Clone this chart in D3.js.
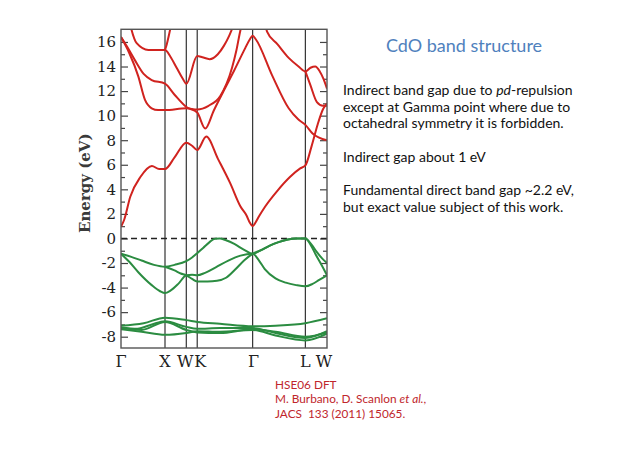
<!DOCTYPE html>
<html>
<head>
<meta charset="utf-8">
<script src="https://cdn.jsdelivr.net/npm/d3@7"></script>
<style>
  body { margin: 0; background: #fff; }
  svg { display: block; }
</style>
</head>
<body>
<svg id="chart" width="638" height="451"></svg>
<script>
// k-path (high symmetry points) and position along the path, 0..1
const kLabels = ['Γ', 'X', 'W', 'K', 'Γ', 'L', 'W'];
const kPos = [0, 0.2136, 0.317, 0.370, 0.639, 0.895, 1];
const labelShift = [0, 0, -1, 3, 1, 0, -3];
const energyTicks = [-8, -6, -4, -2, 0, 2, 4, 6, 8, 10, 12, 14, 16];
const minorTicks = [-7, -5, -3, -1, 1, 3, 5, 7, 9, 11, 13, 15];

// conduction bands, [k, E (eV)]
const cb1 = [[0,0.95],[0.015,1.5],[0.045,3.4],[0.094,5.0],[0.15,5.9],[0.185,5.65],[0.2136,5.65],[0.26,6.6],[0.317,7.8],[0.345,7.55],[0.37,7.2],[0.414,8.3],[0.47,6.5],[0.53,4.5],[0.58,2.6],[0.61,1.85],[0.625,1.3],[0.639,1.0],[0.653,1.3],[0.67,1.8],[0.70,2.6],[0.76,3.9],[0.82,5.0],[0.87,5.7],[0.895,5.95],[0.925,7.5],[0.955,9.3],[0.98,10.5],[1,11.0]];
const cb2 = [[0,16.4],[0.03,15.6],[0.068,14.5],[0.11,13.4],[0.149,12.9],[0.2136,12.6],[0.26,11.7],[0.317,10.7],[0.37,10.25],[0.409,8.95],[0.45,10.4],[0.498,12.0],[0.55,13.7],[0.603,15.5],[0.625,16.2],[0.639,16.5],[0.655,16.2],[0.733,13.3],[0.814,10.6],[0.86,9.7],[0.895,9.25],[0.93,8.55],[1,8.0]];
const cb3 = [[0,16.4],[0.04,15.1],[0.084,13.2],[0.116,11.3],[0.149,10.6],[0.18,10.45],[0.2136,10.45],[0.317,10.6],[0.37,10.5],[0.425,10.8],[0.482,11.6],[0.539,13.9],[0.56,15.3],[0.579,16.9],[0.59,17.6]];
const cb4 = [[0.045,17.4],[0.051,17.0],[0.076,15.9],[0.133,15.35],[0.2136,15.35],[0.24,14.8],[0.27,13.9],[0.30,13.0],[0.317,12.6],[0.37,14.85],[0.395,14.75],[0.43,14.6],[0.47,15.0],[0.50,15.7],[0.525,16.5],[0.545,17.3]];
const cb5 = [[0.2136,15.35],[0.222,15.8],[0.232,16.5],[0.242,17.3]];
const cb6 = [[0.70,17.4],[0.709,16.85],[0.76,15.8],[0.814,14.7],[0.862,14.0],[0.895,13.6],[0.92,13.9],[0.943,14.0],[0.965,13.6],[0.983,13.0],[1,12.2]];
const cb7 = [[0.895,13.6],[0.919,12.5],[0.951,11.1],[0.98,10.8],[1,10.8]];

// valence bands (O 2p)
const vb1 = [[0,-1.25],[0.05,-1.5],[0.1,-1.8],[0.16,-2.15],[0.2136,-2.3],[0.26,-2.15],[0.317,-1.85],[0.345,-1.55],[0.37,-1.2],[0.40,-0.75],[0.43,-0.3],[0.456,-0.02],[0.48,0],[0.51,-0.15],[0.55,-0.45],[0.60,-0.95],[0.639,-1.25],[0.68,-0.95],[0.72,-0.6],[0.765,-0.3],[0.81,-0.08],[0.85,0],[0.895,0],[0.925,-0.5],[0.95,-1.1],[0.975,-1.6],[1,-2.0]];
const vb2 = [[0.2136,-2.3],[0.26,-2.6],[0.29,-2.85],[0.317,-3.0],[0.345,-3.3],[0.37,-3.5],[0.42,-3.5],[0.466,-3.45],[0.51,-3.2],[0.553,-2.55],[0.60,-1.75],[0.639,-1.25],[0.68,-0.95],[0.72,-0.6],[0.765,-0.3],[0.81,-0.08],[0.85,0],[0.895,0],[0.92,-0.5],[0.945,-1.3],[0.975,-2.2],[1,-3.0]];
const vb3 = [[0,-1.25],[0.04,-1.9],[0.084,-2.75],[0.149,-3.8],[0.19,-4.3],[0.2136,-4.45],[0.24,-4.25],[0.278,-3.7],[0.317,-3.0],[0.345,-2.95],[0.37,-3.0],[0.408,-2.8],[0.46,-2.35],[0.521,-1.8],[0.58,-1.4],[0.639,-1.25],[0.67,-1.8],[0.698,-2.5],[0.75,-3.25],[0.80,-3.6],[0.85,-3.8],[0.895,-3.9],[0.93,-3.7],[0.96,-3.4],[1,-3.0]];
// Cd 4d bands
const dBand1 = [[0,-7.1],[0.11,-6.9],[0.2136,-6.45],[0.317,-6.65],[0.37,-6.8],[0.48,-6.95],[0.639,-7.15],[0.75,-7.1],[0.895,-6.9],[1,-6.5]];
const dBand2 = [[0,-7.25],[0.08,-7.35],[0.15,-7.0],[0.2136,-6.75],[0.317,-7.2],[0.37,-7.35],[0.48,-7.3],[0.639,-7.3],[0.75,-7.7],[0.895,-8.1],[1,-7.55]];
const dBand3 = [[0,-7.4],[0.1,-7.6],[0.2136,-7.85],[0.317,-7.7],[0.37,-7.55],[0.48,-7.6],[0.639,-7.45],[0.75,-7.9],[0.895,-8.3],[1,-7.75]];
const dBand4 = [[0,-7.3],[0.1,-7.45],[0.2136,-6.8],[0.317,-7.45],[0.37,-7.65],[0.48,-7.7],[0.639,-7.4],[0.75,-7.6],[0.895,-8.0],[1,-7.65]];

const conductionBands = [cb1, cb2, cb3, cb4, cb5, cb6, cb7];
const valenceBands = [vb1, vb2, vb3, dBand1, dBand2, dBand3, dBand4];

// slide texts
const titleText = 'CdO band structure';
const notes = [
    ['Indirect band gap due to ', ['pd', true], '-repulsion'],
    ['except at Gamma point where due to'],
    ['octahedral symmetry it is forbidden.'],
    null,
    ['Indirect gap about 1 eV'],
    null,
    ['Fundamental direct band gap ~2.2 eV,'],
    ['but exact value subject of this work.']
];
const citation = [
    ['HSE06 DFT'],
    ['M. Burbano, D. Scanlon ', ['et al.', true], ','],
    ['JACS\u00a0 133 (2011) 15065.']
];

const svg = d3.select('#chart');

const x = d3.scaleLinear().domain([0, 1]).range([121, 327]);
const y = d3.scaleLinear().domain([-8.92, 17.03]).range([348, 29.3]);

svg.append('defs').append('clipPath').attr('id', 'plotClip')
    .append('rect')
    .attr('x', x(0)).attr('y', y(17.03))
    .attr('width', x(1) - x(0)).attr('height', y(-8.92) - y(17.03));

//Axes (ticks inward on both sides)
const tickFont = 'DejaVu Serif, serif';
function yAxis(side, values, size, labels) {
    const ax = (side === 'left' ? d3.axisLeft(y) : d3.axisRight(y))
        .tickValues(values).tickSize(-size).tickPadding(5)
        .tickFormat(labels ? (d => String(d)) : '');
    const g = svg.append('g')
        .attr('transform', `translate(${side === 'left' ? x(0) : x(1)},0)`)
        .call(ax);
    g.select('.domain').remove();
    g.selectAll('line').attr('stroke', '#444').attr('stroke-width', 1.2);
    g.selectAll('text').attr('font-family', tickFont).attr('font-size', 15).attr('fill', '#222');
}
yAxis('left', energyTicks, 7, true);
yAxis('left', minorTicks, 4, false);
yAxis('right', energyTicks, 7, false);
yAxis('right', minorTicks, 4, false);

// vertical lines at high symmetry points
svg.append('g').selectAll('line')
    .data(kPos.slice(1, -1))
    .join('line')
    .attr('x1', d => x(d)).attr('x2', d => x(d))
    .attr('y1', y(17.03)).attr('y2', y(-8.92))
    .attr('stroke', '#333').attr('stroke-width', 1.2);

// Fermi level
svg.append('line')
    .attr('x1', x(0)).attr('x2', x(1))
    .attr('y1', y(0)).attr('y2', y(0))
    .attr('stroke', '#222').attr('stroke-width', 1.6)
    .attr('stroke-dasharray', '6,4');

const bandLine = d3.line()
    .x(d => x(d[0]))
    .y(d => y(d[1]))
    .curve(d3.curveMonotoneX);

const bands = svg.append('g').attr('clip-path', 'url(#plotClip)').attr('fill', 'none');
bands.selectAll('path.cb')
    .data(conductionBands)
    .join('path').attr('class', 'cb')
    .attr('d', bandLine)
    .attr('stroke', '#d0231f').attr('stroke-width', 2);
bands.selectAll('path.vb')
    .data(valenceBands)
    .join('path').attr('class', 'vb')
    .attr('d', bandLine)
    .attr('stroke', '#2b8c41').attr('stroke-width', 2);

// frame
svg.append('rect')
    .attr('x', x(0)).attr('y', y(17.03))
    .attr('width', x(1) - x(0)).attr('height', y(-8.92) - y(17.03))
    .attr('fill', 'none').attr('stroke', '#555').attr('stroke-width', 1.4);

// k labels
svg.append('g').selectAll('text')
    .data(kLabels)
    .join('text')
    .attr('x', (d, i) => x(kPos[i]) + labelShift[i])
    .attr('y', 366.5)
    .attr('text-anchor', 'middle')
    .attr('font-family', tickFont).attr('font-size', 16).attr('fill', '#222')
    .text(d => d);

svg.append('text')
    .attr('transform', `translate(90,${y(4.5)}) rotate(-90)`)
    .attr('text-anchor', 'middle')
    .attr('font-family', tickFont).attr('font-size', 15).attr('font-weight', 'bold')
    .attr('fill', '#3a3a3a')
    .text('Energy (eV)');

// right side text
const sans = 'Lato, sans-serif';
svg.append('text')
    .attr('x', 464).attr('y', 52)
    .attr('text-anchor', 'middle')
    .attr('font-family', sans).attr('font-size', 18).attr('fill', '#4f81bd')
    .text(titleText);

function writeLines(lines, x0, y0, lineH, size, color) {
    lines.forEach((parts, i) => {
        if (!parts) return;
        const t = svg.append('text')
            .attr('x', x0).attr('y', y0 + i * lineH)
            .attr('font-family', sans).attr('font-size', size).attr('fill', color);
        parts.forEach(p => {
            const italic = Array.isArray(p);
            t.append('tspan')
                .attr('font-style', italic ? 'italic' : 'normal')
                .text(italic ? p[0] : p);
        });
    });
}
writeLines(notes, 343, 95, 16.7, 14, '#111');
writeLines(citation, 275, 389, 14.3, 11.8, '#c0262c');
</script>
</body>
</html>
